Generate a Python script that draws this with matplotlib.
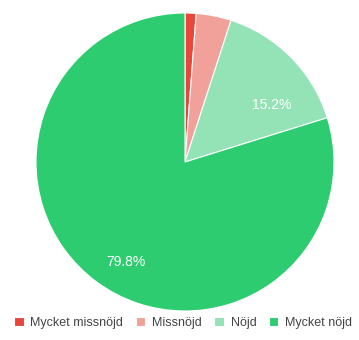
import matplotlib.pyplot as plt

labels = ['Mycket missnöjd', 'Missnöjd', 'Nöjd', 'Mycket nöjd']
shares = [1.2, 3.8, 15.2, 79.8]
colors = ['#e8453c', '#f2a19a', '#93e3b6', '#2ecc71']

plt.rcParams['font.family'] = ['Liberation Sans', 'DejaVu Sans']

fig = plt.figure(figsize=(3.59, 3.4), dpi=100)
# pie box in pixels: centre (185, 162), radius 149
ax = fig.add_axes([(185 - 149) / 359, (340 - 311) / 340, 298 / 359, 298 / 340])

wedges, _, pct_texts = ax.pie(
    shares, colors=colors, startangle=90, counterclock=False,
    autopct=lambda p: f'{p:.1f}%' if p > 10 else '',
    wedgeprops=dict(edgecolor='white', linewidth=0.8),
    textprops=dict(color='white', fontsize=10))
ax.set_xlim(-1, 1)
ax.set_ylim(-1, 1)

# label spots for the two large slices
pct_texts[2].set_position((0.58, 0.38))
pct_texts[3].set_position((-0.40, -0.67))

fig.legend(wedges, labels, loc='center', bbox_to_anchor=(0.51, 0.05),
           ncol=4, frameon=False, fontsize=9, labelcolor='#444444',
           handlelength=0.75, handleheight=0.75, handletextpad=0.55,
           columnspacing=1.0, borderaxespad=0)

fig.savefig('out.png', dpi=100)
